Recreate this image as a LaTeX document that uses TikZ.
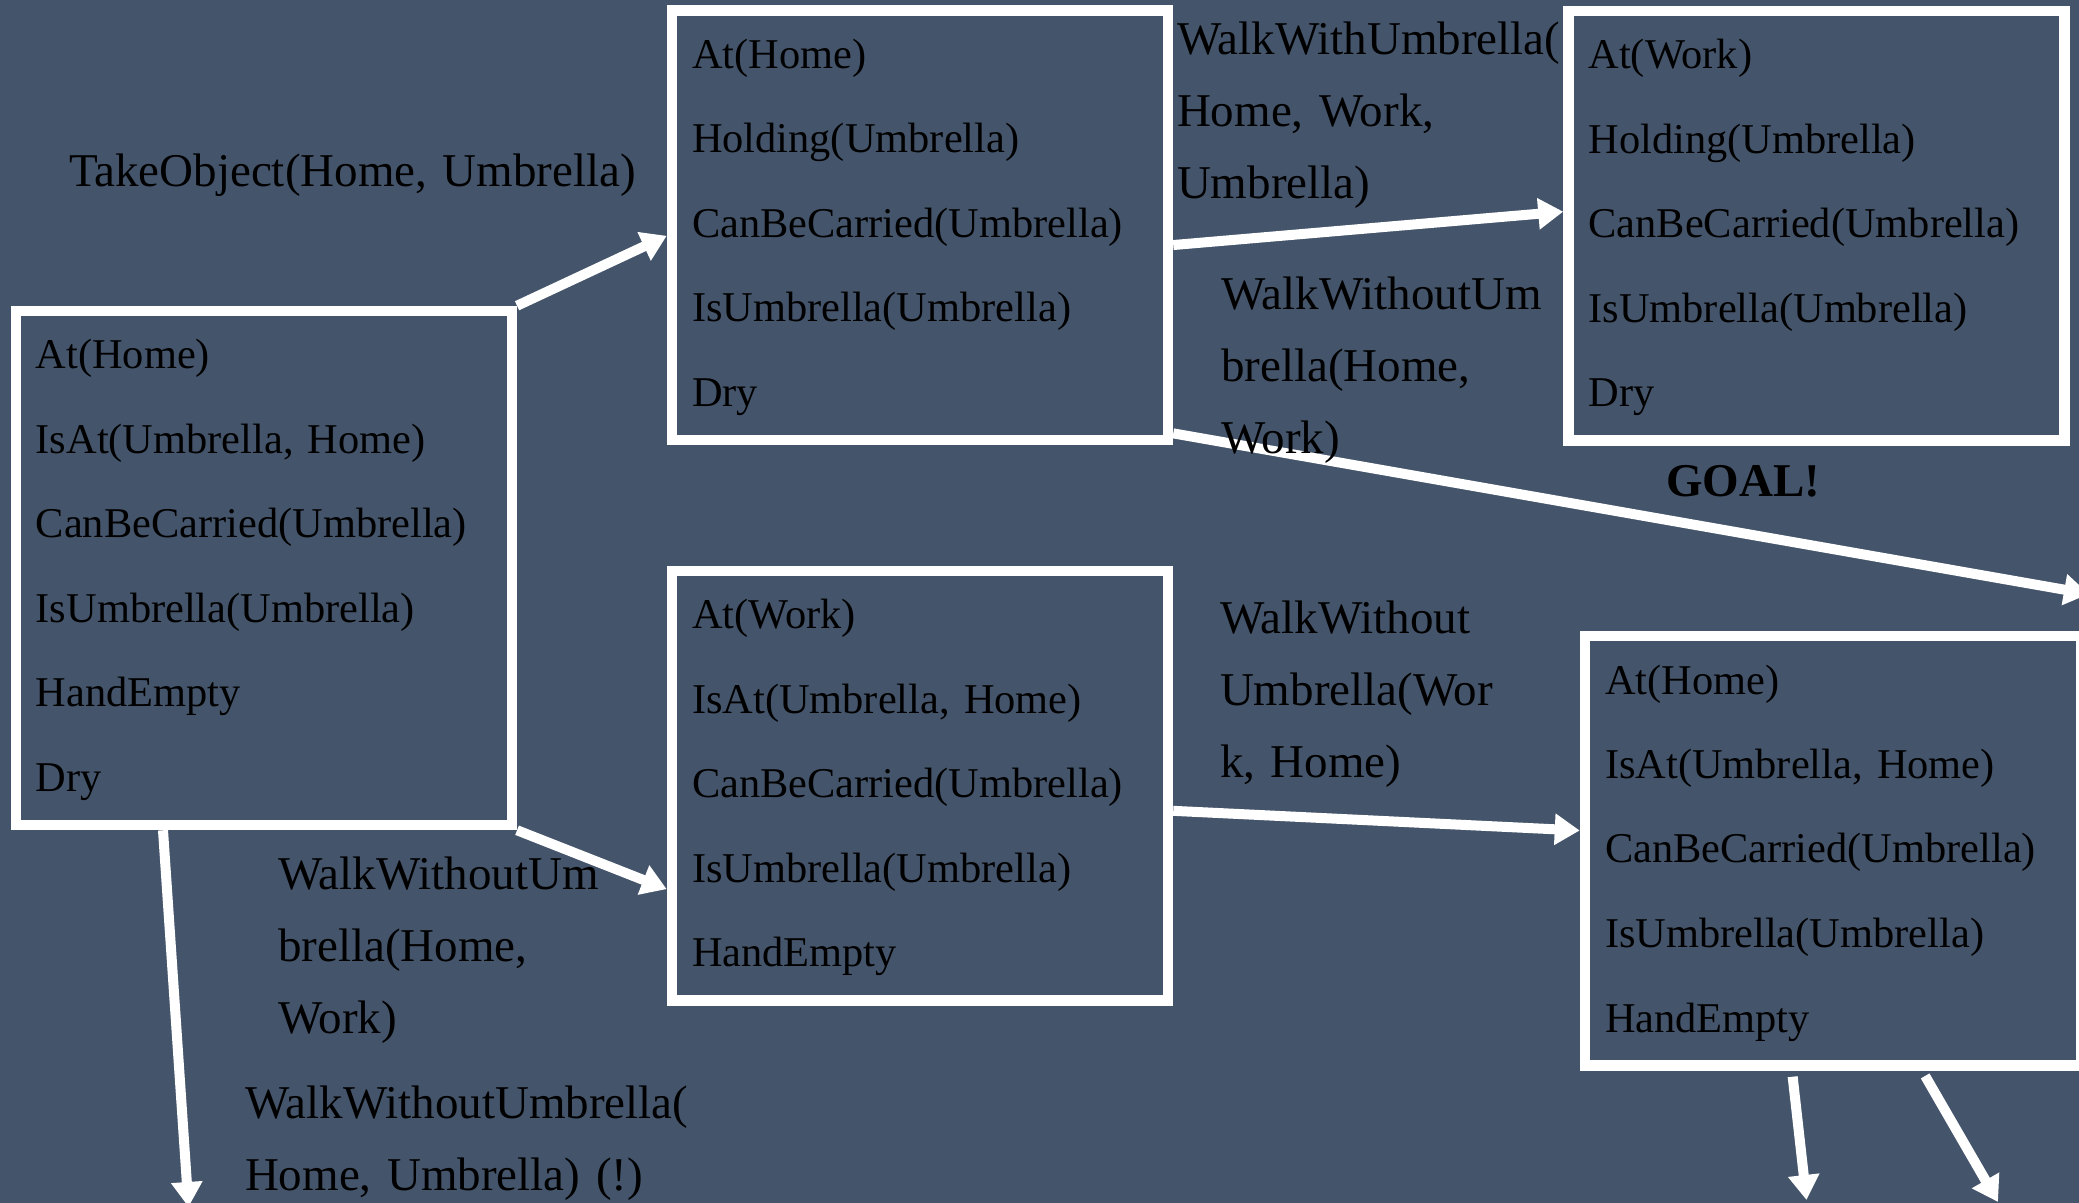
\documentclass[tikz,border=0pt]{standalone}
\usepackage{fontspec}
\setmainfont{Liberation Serif}
\usetikzlibrary{arrows.meta,calc}
\definecolor{slate}{HTML}{44546A}
\frenchspacing
\begin{document}
\begin{tikzpicture}[x=0.5pt,y=-0.5pt,
  state/.style={draw=white, line width=5.25pt, rectangle, inner xsep=10pt, inner ysep=0pt,
    text width=228pt, align=left, text height=29pt, text depth=185.75pt,
    font=\fontsize{21.2pt}{42.25pt}\selectfont},
  lbl/.style={inner sep=0pt, outer sep=0pt, anchor=base west, text width=300pt, align=left,
    font=\fontsize{23.5pt}{36pt}\selectfont},
  move/.style={draw=white, line width=5pt, -{Triangle[length=12.5pt,width=15pt]}},
]
\useasboundingbox (0,0) rectangle (2079,1203);
\fill[slate] (0,0) rectangle (2079,1203);

% states
\node[state, text depth=228pt] (A) at (263.8,568)
  {At(Home)\\IsAt(Umbrella, Home)\\CanBeCarried(Umbrella)\\IsUmbrella(Umbrella)\\HandEmpty\\Dry};
\node[state] (B) at (920,225.25)
  {At(Home)\\Holding(Umbrella)\\CanBeCarried(Umbrella)\\IsUmbrella(Umbrella)\\Dry};
\node[state] (C) at (1816.5,225.75)
  {At(Work)\\Holding(Umbrella)\\CanBeCarried(Umbrella)\\IsUmbrella(Umbrella)\\Dry};
\node[state] (D) at (920,785.75)
  {At(Work)\\IsAt(Umbrella, Home)\\CanBeCarried(Umbrella)\\IsUmbrella(Umbrella)\\HandEmpty};
\node[state] (E) at (1833,850.75)
  {At(Home)\\IsAt(Umbrella, Home)\\CanBeCarried(Umbrella)\\IsUmbrella(Umbrella)\\HandEmpty};

% open ends of the transitions leaving the picture
\coordinate (out3) at (2089,594);
\coordinate (out5) at (188.5,1207);
\coordinate (out7) at (1806.5,1200);
\coordinate (out8) at (1998,1202);

% transitions
\draw[move] (A.north east) -- ($(B.north west)!0.524!(B.south west)$);
\draw[move] ($(B.north east)!0.545!(B.south east)$) -- ($(C.north west)!0.468!(C.south west)$);
\draw[move] ($(B.north east)!0.973!(B.south east)$) -- (out3);
\draw[move] (A.south east) -- ($(D.north west)!0.735!(D.south west)$);
\draw[move] ($(A.south west)!0.301!(A.south east)$) -- (out5);
\draw[move] ($(D.north east)!0.557!(D.south east)$) -- ($(E.north west)!0.454!(E.south west)$);
\draw[move, shorten <=3pt] ($(E.south west)!0.419!(E.south east)$) -- (out7);
\draw[move, shorten <=3pt] ($(E.south west)!0.676!(E.south east)$) -- (out8);

% action labels
\node[lbl] (l1) at (69,187) {TakeObject(Home, Umbrella)};
\node[lbl] (l2) at (1177,55) {WalkWithUmbrella(\\Home, Work,\\Umbrella)};
\node[lbl] (l3) at (1221,310) {WalkWithoutUm\\brella(Home,\\Work)};
\node[lbl] (l4) at (1220,633) {WalkWithout\\Umbrella(Wor\\k, Home)};
\node[lbl] (l5) at (278,889) {WalkWithoutUm\\brella(Home,\\Work)};
\node[lbl] (l6) at (245,1118) {WalkWithoutUmbrella(\\Home, Umbrella) (!)};
\node[lbl, font=\fontsize{23.5pt}{36pt}\selectfont\bfseries] (goal) at (1666,497) {GOAL!};
\end{tikzpicture}
\end{document}
